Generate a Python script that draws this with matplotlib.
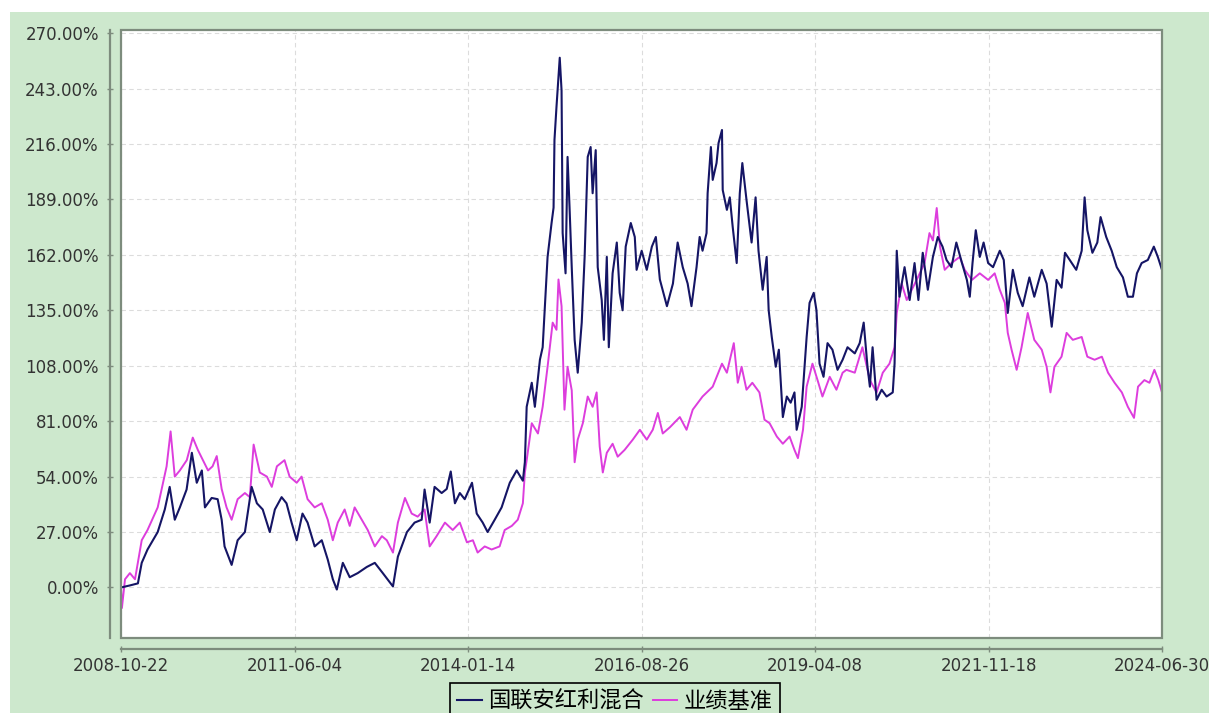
import matplotlib
matplotlib.use("Agg")
import matplotlib.pyplot as plt
import matplotlib.dates as mdates
from matplotlib.patches import Rectangle
from matplotlib.font_manager import FontProperties
from matplotlib.ticker import FuncFormatter
import pandas as pd

# Fund cumulative return (%)
fund_dates = [
    "2008-10-22", "2008-12-10", "2009-01-23", "2009-02-13", "2009-03-17", "2009-05-12",
    "2009-06-20", "2009-07-17", "2009-08-14", "2009-09-11", "2009-10-18", "2009-11-16",
    "2009-12-13", "2010-01-10", "2010-01-27", "2010-03-05", "2010-04-07", "2010-04-29",
    "2010-05-15", "2010-06-23", "2010-07-26", "2010-09-04", "2010-10-11", "2010-11-09",
    "2010-12-11", "2011-01-19", "2011-02-16", "2011-03-25", "2011-04-21", "2011-05-19",
    "2011-06-16", "2011-07-18", "2011-08-15", "2011-09-23", "2011-11-01", "2011-12-04",
    "2012-01-01", "2012-01-23", "2012-02-25", "2012-04-03", "2012-05-17", "2012-07-06",
    "2012-08-19", "2012-10-02", "2012-11-27", "2012-12-24", "2013-02-12", "2013-03-26",
    "2013-05-04", "2013-05-20", "2013-06-17", "2013-07-14", "2013-08-22", "2013-09-19",
    "2013-10-11", "2013-11-03", "2013-11-30", "2013-12-27", "2014-02-05", "2014-03-03",
    "2014-04-05", "2014-05-02", "2014-06-10", "2014-07-18", "2014-09-01", "2014-10-09",
    "2014-11-12", "2014-11-23", "2014-12-03", "2014-12-31", "2015-01-17", "2015-02-14",
    "2015-03-01", "2015-03-28", "2015-04-19", "2015-04-30", "2015-05-05", "2015-05-16",
    "2015-06-03", "2015-06-13", "2015-06-19", "2015-07-05", "2015-07-16", "2015-07-27",
    "2015-08-08", "2015-08-24", "2015-09-10", "2015-10-02", "2015-10-18", "2015-11-04",
    "2015-11-20", "2015-12-01", "2015-12-18", "2015-12-29", "2016-01-20", "2016-02-01",
    "2016-02-17", "2016-02-28", "2016-03-20", "2016-04-12", "2016-04-28", "2016-05-14",
    "2016-05-31", "2016-06-28", "2016-07-20", "2016-07-30", "2016-08-27", "2016-09-24",
    "2016-10-22", "2016-11-13", "2016-12-05", "2017-01-13", "2017-02-15", "2017-03-13",
    "2017-04-10", "2017-05-07", "2017-05-28", "2017-06-25", "2017-07-12", "2017-07-28",
    "2017-08-19", "2017-08-25", "2017-09-12", "2017-09-22", "2017-10-13", "2017-10-24",
    "2017-11-12", "2017-11-16", "2017-12-09", "2017-12-25", "2018-01-10", "2018-02-01",
    "2018-02-18", "2018-03-04", "2018-03-27", "2018-04-24", "2018-05-16", "2018-06-01",
    "2018-06-24", "2018-07-16", "2018-07-27", "2018-08-13", "2018-09-04", "2018-09-21",
    "2018-10-13", "2018-11-04", "2018-11-25", "2018-12-16", "2018-12-28", "2019-01-25",
    "2019-02-21", "2019-03-09", "2019-04-01", "2019-04-16", "2019-05-03", "2019-05-25",
    "2019-06-16", "2019-07-13", "2019-08-10", "2019-09-07", "2019-10-04", "2019-11-13",
    "2019-12-10", "2020-01-01", "2020-01-22", "2020-02-04", "2020-02-19", "2020-03-12",
    "2020-04-09", "2020-05-06", "2020-06-09", "2020-06-19", "2020-07-01", "2020-07-16",
    "2020-08-13", "2020-09-10", "2020-10-07", "2020-10-28", "2020-11-21", "2020-12-19",
    "2021-01-16", "2021-02-12", "2021-03-10", "2021-04-01", "2021-04-28", "2021-05-25",
    "2021-06-25", "2021-07-22", "2021-08-07", "2021-08-22", "2021-09-09", "2021-10-01",
    "2021-10-22", "2021-11-16", "2021-12-13", "2022-01-19", "2022-02-10", "2022-03-04",
    "2022-04-01", "2022-04-28", "2022-05-25", "2022-07-01", "2022-07-28", "2022-09-07",
    "2022-10-04", "2022-11-01", "2022-11-28", "2022-12-25", "2023-01-13", "2023-02-19",
    "2023-03-16", "2023-04-15", "2023-05-01", "2023-05-16", "2023-06-13", "2023-07-10",
    "2023-07-28", "2023-08-28", "2023-09-27", "2023-10-25", "2023-11-28", "2023-12-25",
    "2024-01-22", "2024-02-13", "2024-03-10", "2024-04-13", "2024-05-16", "2024-06-07",
    "2024-06-30",
]
fund_values = [
    0, 1, 2, 12, 18.5, 27,
    38, 49, 33, 39, 47.7, 65.6,
    51, 57, 39, 43.6, 43, 33,
    20, 11, 23, 27, 49, 41,
    38, 27, 38, 44, 41, 31.6,
    23, 36, 31.6, 20, 23, 13.6,
    4, -1, 12, 5, 7, 10,
    12, 7, 0.5, 15, 27, 31.6,
    33, 47.7, 31.6, 49, 46, 48,
    56.5, 41, 46, 43, 51, 36,
    31.6, 27, 33, 39, 51, 57,
    52, 61, 88, 99.7, 88, 111,
    117, 161, 177.5, 185, 218, 234,
    258, 242, 172.6, 153, 209.7, 185,
    156, 120.6, 104.6, 129, 161, 209.7,
    214.5, 192, 213, 156, 140, 120.6,
    161, 117, 153, 168, 143.5, 135,
    166, 177.5, 170.7, 154.7, 164, 154.7,
    166, 170.7, 150, 137, 148, 168,
    156, 148, 137, 156, 170.7, 164,
    172.6, 192, 214.5, 198.5, 206.7, 216.4,
    222.8, 193.6, 183.9, 190, 175.6, 158,
    192, 206.7, 188.7, 168, 190, 164,
    145, 161, 135, 122, 107.5, 115.8,
    83, 93, 90, 95, 76.8, 88,
    122, 138.6, 143.5, 135, 109, 102.6,
    119, 115.8, 106, 110.9, 117, 114,
    119, 129, 107.5, 97.8, 117, 91.4,
    96.3, 93, 95, 109, 164, 141.6,
    156, 140, 158, 140, 163, 145,
    161, 170.7, 166, 159.5, 156, 168,
    158, 149.8, 141.6, 158, 174, 161,
    168, 158, 156, 164, 159.5, 133.7,
    154.7, 143.5, 137, 151, 141.6, 154.7,
    148, 127, 149.8, 146, 163, 158,
    154.7, 164, 190, 174, 163, 168,
    180.4, 170.7, 164, 156, 151, 141.6,
    141.6, 153, 158, 159.5, 166, 161,
    154.7,
]

# Benchmark cumulative return (%)
bench_dates = [
    "2008-10-22", "2008-10-27", "2008-11-13", "2008-12-10", "2009-01-07", "2009-02-13",
    "2009-03-17", "2009-05-12", "2009-06-30", "2009-07-22", "2009-08-14", "2009-09-11",
    "2009-10-19", "2009-11-21", "2009-12-19", "2010-01-16", "2010-02-13", "2010-03-10",
    "2010-04-02", "2010-04-29", "2010-05-26", "2010-06-23", "2010-07-26", "2010-09-04",
    "2010-10-01", "2010-10-22", "2010-11-25", "2011-01-03", "2011-01-30", "2011-02-27",
    "2011-04-10", "2011-05-08", "2011-06-16", "2011-07-13", "2011-08-15", "2011-09-23",
    "2011-11-01", "2011-12-04", "2012-01-01", "2012-01-28", "2012-03-06", "2012-04-03",
    "2012-04-30", "2012-06-08", "2012-07-11", "2012-08-19", "2012-09-27", "2012-10-24",
    "2012-11-27", "2012-12-24", "2013-02-01", "2013-03-10", "2013-04-12", "2013-05-20",
    "2013-06-17", "2013-07-25", "2013-09-09", "2013-10-22", "2013-11-30", "2014-01-08",
    "2014-02-10", "2014-03-08", "2014-04-16", "2014-05-24", "2014-07-07", "2014-08-04",
    "2014-09-12", "2014-10-15", "2014-11-12", "2014-11-23", "2014-12-03", "2014-12-31",
    "2015-02-03", "2015-03-01", "2015-03-28", "2015-04-25", "2015-05-16", "2015-05-27",
    "2015-06-13", "2015-06-29", "2015-07-16", "2015-08-08", "2015-08-24", "2015-09-10",
    "2015-10-08", "2015-11-04", "2015-12-01", "2015-12-23", "2016-01-09", "2016-01-26",
    "2016-02-17", "2016-03-20", "2016-04-17", "2016-05-25", "2016-07-09", "2016-08-17",
    "2016-09-24", "2016-10-27", "2016-11-24", "2016-12-21", "2017-01-29", "2017-03-25",
    "2017-05-01", "2017-06-04", "2017-07-28", "2017-09-22", "2017-11-12", "2017-12-09",
    "2018-01-16", "2018-02-07", "2018-02-28", "2018-03-27", "2018-04-28", "2018-06-06",
    "2018-07-04", "2018-08-01", "2018-09-10", "2018-10-13", "2018-11-19", "2018-12-16",
    "2019-01-04", "2019-02-01", "2019-02-21", "2019-03-25", "2019-04-22", "2019-05-19",
    "2019-06-28", "2019-08-04", "2019-09-07", "2019-09-28", "2019-11-13", "2019-12-25",
    "2020-02-04", "2020-03-12", "2020-04-15", "2020-05-22", "2020-06-19", "2020-07-01",
    "2020-07-28", "2020-08-25", "2020-09-22", "2020-10-25", "2020-12-01", "2020-12-28",
    "2021-01-16", "2021-02-06", "2021-02-24", "2021-03-22", "2021-04-28", "2021-06-13",
    "2021-07-10", "2021-08-19", "2021-10-01", "2021-11-16", "2021-12-22", "2022-01-19",
    "2022-02-16", "2022-03-04", "2022-03-25", "2022-04-22", "2022-05-19", "2022-06-22",
    "2022-07-28", "2022-09-07", "2022-10-04", "2022-10-25", "2022-11-16", "2022-12-25",
    "2023-01-22", "2023-02-25", "2023-04-15", "2023-05-16", "2023-06-25", "2023-08-04",
    "2023-09-07", "2023-10-13", "2023-11-22", "2023-12-25", "2024-01-28", "2024-02-19",
    "2024-03-25", "2024-04-22", "2024-05-19", "2024-06-10", "2024-06-30",
]
bench_values = [
    0, -10, 4, 7, 4, 23,
    28, 39, 59, 76, 54, 57,
    62, 73, 67, 62, 57, 59,
    64, 48, 39, 33, 43, 46,
    44, 69.6, 56, 54, 49, 59,
    62, 54, 51, 54, 43, 39,
    41, 33, 23, 31.6, 38, 30,
    39, 33, 28, 20, 25, 23,
    17, 31.6, 43.6, 36, 34.5, 38,
    20, 25, 31.6, 28, 31.6, 22,
    23, 17, 20, 18.5, 20, 28,
    30, 33, 41, 56, 62, 80,
    75, 88, 107.5, 129, 125.5, 150,
    137, 86.6, 107.5, 96, 61, 72,
    80, 93, 88, 95, 68.6, 56,
    65.6, 70, 63.7, 67, 72, 76.8,
    72, 76.8, 85, 75, 78, 83,
    76.8, 86.6, 93, 97.8, 109, 104.6,
    119, 99.7, 107.5, 96.3, 99.7, 95,
    81.7, 80, 73.5, 70, 73.5, 67,
    63, 76.8, 97.8, 109, 101, 93,
    102.6, 96.3, 104.6, 106, 104.6, 117,
    101, 95, 104.6, 109, 117, 133.7,
    148, 140, 145, 151, 158, 172.6,
    169, 184.8, 166, 154.7, 158, 161,
    154.7, 149.8, 153, 149.8, 153, 145,
    138.6, 124, 115.8, 106, 117, 133.7,
    120.6, 115.8, 107.5, 95, 107.5, 112.4,
    124, 120.6, 122, 112.4, 110.9, 112.4,
    104.6, 99.7, 95, 88, 82.6, 97.8,
    101, 99.7, 106, 101, 95,
]

tick_dates = ["2008-10-22", "2011-06-04", "2014-01-14", "2016-08-26",
              "2019-04-08", "2021-11-18", "2024-06-30"]
y_ticks = [0, 27, 54, 81, 108, 135, 162, 189, 216, 243, 270]

series_names = ["国联安红利混合", "业绩基准"]

fund_x = pd.to_datetime(fund_dates)
bench_x = pd.to_datetime(bench_dates)
ticks_x = pd.to_datetime(tick_dates)

green = "#cde8cd"
frame_col = "#7d8c7d"

fig = plt.figure(figsize=(12.09, 7.13), dpi=100, facecolor="white")
fig.patches.append(Rectangle((10 / 1209, 0), 1 - 10 / 1209, 1 - 12 / 713,
                             transform=fig.transFigure, facecolor=green,
                             edgecolor="none", zorder=-10))

ax = fig.add_axes([121 / 1209, 1 - 638 / 713, (1162 - 121) / 1209, (638 - 30) / 713])
ax.set_facecolor("white")

ax.plot(bench_x, bench_values, color="#dd3ddd", lw=1.4, label=series_names[1], zorder=3)
ax.plot(fund_x, fund_values, color="#151565", lw=1.5, label=series_names[0], zorder=4)

ax.set_xlim(ticks_x[0], ticks_x[-1])
ax.set_ylim(-24.6, 271.5)
ax.set_xticks(ticks_x)
ax.xaxis.set_major_formatter(mdates.DateFormatter("%Y-%m-%d"))
ax.set_yticks(y_ticks)
ax.yaxis.set_major_formatter(FuncFormatter(lambda v, p: f"{v:.2f}%"))

ax.grid(True, color="#dcdcdc", linestyle=(0, (4, 3)), linewidth=0.8)

# offset axis lines, plus a plain border around the plot area
for side in ["top", "right"]:
    ax.spines[side].set_visible(False)
for side in ["left", "bottom"]:
    ax.spines[side].set_position(("outward", 8))
    ax.spines[side].set_color(frame_col)
    ax.spines[side].set_linewidth(1.6)
ax.add_patch(Rectangle((0, 0), 1, 1, transform=ax.transAxes, fill=False,
                       edgecolor=frame_col, linewidth=1.6, clip_on=False, zorder=5))

ax.tick_params(axis="both", colors=frame_col, labelcolor="#333333", labelsize=12,
               length=4, width=1, direction="inout")
ax.tick_params(axis="y", pad=6)
ax.tick_params(axis="x", pad=4)

leg_font = FontProperties(family=["Noto Sans CJK SC", "DejaVu Sans"], size=16)
handles, labels = ax.get_legend_handles_labels()
leg = fig.legend(handles[::-1], labels[::-1], loc="upper center",
                 bbox_to_anchor=(615 / 1209, 1 - 683 / 713), ncol=2, prop=leg_font,
                 frameon=True, fancybox=False, borderpad=0.3, handlelength=1.1,
                 handletextpad=0.3, columnspacing=0.4, borderaxespad=0)
leg.get_frame().set_edgecolor("black")
leg.get_frame().set_facecolor(green)
leg.get_frame().set_linewidth(1.2)
leg.get_frame().set_alpha(1)

fig.savefig("out.png", dpi=100, facecolor=fig.get_facecolor())
